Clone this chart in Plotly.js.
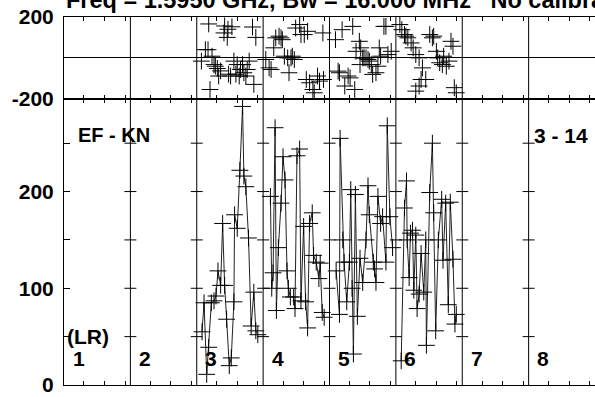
<!DOCTYPE html>
<html>
<head>
<meta charset="utf-8">
<script src="https://cdn.plot.ly/plotly-3.0.1.min.js"></script>
<style>html,body{margin:0;padding:0;background:#fff;}#chart{width:595px;height:397px;}</style>
</head>
<body>
<div id="chart"></div>
<script>
// Antenna labels along the baseline panels
const antennas = ["1","2","3","4","5","6","7","8"];
const titleText = "Freq = 1.5950 GHz, Bw = 16.000 MHz   No calibration";
const baselineLabel = "EF - KN";
const timeLabel = "3 - 14";
const polLabel = "(LR)";

// time within each antenna panel (percent of panel) and amplitudes
const t3a = [8,11,15,18,22,26,29,32,36,39,42,45,49,52,56,57,61,65,69,71,74,78,82,86,89,92];
const amp3 = [55,85,11,39,85,87,92,118,103,167,103,68,20,28,86,176,162,222,288,216,205,152,61,96,56,52];
const t4a = [11,13,15,18,20,23,27,30,33,36,38,41,46,48,51,55,57,61,64,67,70,74,76,80,84,86,89,92];
const amp4 = [195,100,116,266,77,142,188,236,212,118,100,91,91,79,237,244,87,164,86,59,167,178,134,127,110,126,75,70];
const t5a = [10,15,16,20,22,26,30,32,34,36,39,42,46,50,55,58,60,66,68,70,73,77,80,85,87,91,95];
const amp5 = [118,73,255,150,127,86,127,202,100,32,197,71,131,106,150,206,176,127,120,106,195,167,174,127,268,174,142];
const t6a = [8,13,16,17,20,22,25,27,30,32,35,38,42,45,46,51,55,57,60,64,69,71,75,79,82,86,89,91];
const amp6 = [25,183,211,150,111,157,160,98,155,79,94,136,96,150,41,199,250,178,56,150,192,129,188,83,189,130,63,73];

// phases
const t3p = [7,13,17,18,20,23,26,28,31,33,36,41,42,46,47,48,51,53,56,59,61,64,66,69,71,74,76,79,84,86,89];
const ph3 = [-16,40,40,166,-155,8,-33,-41,-52,-89,-64,122,156,100,140,-80,-89,152,-16,-80,-33,-89,-57,-33,-73,-89,-57,-16,151,-130,100];
const t4p = [4,9,12,16,19,24,27,29,32,37,39,42,44,47,49,55,57,62,65,67,70,75,77,82,85,90,91];
const ph4 = [-8,-49,-57,49,98,106,98,89,8,0,-73,0,8,-8,146,163,114,114,-106,130,-122,-155,-171,-89,-114,122,-106];
const t5p = [9,13,15,19,23,28,31,35,38,40,45,46,47,50,52,55,58,60,63,65,70,73,75,77,82,85,88,93];
const ph5 = [89,-65,-73,138,-138,-89,-98,154,-155,32,81,-33,49,0,0,0,-8,-16,-33,-81,-73,-41,49,8,154,154,16,32];
const t6p = [6,9,13,15,18,23,26,30,30,35,35,38,40,45,51,55,57,61,63,66,70,72,76,80,83,86,88,91];
const ph6 = [163,138,114,106,98,73,49,16,-163,0,-138,-106,-49,-106,114,98,106,32,0,-24,-33,8,-41,-16,81,57,-146,-171];

const ampTicks = [0,50,100,150,200,250];
const ampTickText = ["0","","100","","200",""];
const phaseTicks = [-200,200];
const phaseTickText = ["-200","200"];
const timeTickFractions = [0.30,0.61,0.92];

const series = [
  {ant:3, ta:t3a, a:amp3, tp:t3p, p:ph3},
  {ant:4, ta:t4a, a:amp4, tp:t4p, p:ph4},
  {ant:5, ta:t5a, a:amp5, tp:t5p, p:ph5},
  {ant:6, ta:t6a, a:amp6, tp:t6p, p:ph6}
];

const marker = {symbol:'cross-thin', size:12, color:'#000', line:{width:1, color:'#000'}};
const traces = [];
series.forEach(s => {
  traces.push({x:s.ta.map(v => s.ant-1+v/100), y:s.a, xaxis:'x', yaxis:'y',
    mode:'lines+markers', line:{color:'#222', width:1}, marker:marker, hoverinfo:'none'});
  traces.push({x:s.tp.map(v => s.ant-1+v/100), y:s.p, xaxis:'x2', yaxis:'y2',
    mode:'markers', marker:marker, hoverinfo:'none'});
});

const nPan = antennas.length;
const tickvals = [];
for (let k=0;k<nPan;k++) timeTickFractions.forEach(f => tickvals.push(k+f));

const shapes = [];
for (let k=1;k<nPan;k++) {
  shapes.push({type:'line', xref:'x', yref:'paper', x0:k, x1:k, y0:0, y1:1, line:{color:'#000', width:1}});
  ampTicks.slice(1).forEach(v => shapes.push({type:'line', xref:'x', yref:'y', xsizemode:'pixel', xanchor:k,
    x0:-6, x1:6, y0:v, y1:v, line:{color:'#000', width:1}}));
}

const F = {family:'"Liberation Sans", Arial, sans-serif', size:21, color:'#000', weight:'bold'};
const FT = Object.assign({}, F, {size:23.5});
const annotations = [
  {text:titleText, xref:'paper', yref:'paper', x:0, y:1.047, xanchor:'left', yanchor:'middle', showarrow:false, font:FT},
  {text:baselineLabel, xref:'paper', yref:'paper', x:0.0235, y:0.679, xanchor:'left', yanchor:'middle', showarrow:false, font:Object.assign({}, F, {size:20})},
  {text:timeLabel, xref:'paper', yref:'paper', x:0.99, y:0.679, xanchor:'right', yanchor:'middle', showarrow:false, font:F},
  {text:polLabel, xref:'paper', yref:'paper', x:0.002, y:0.131, xanchor:'left', yanchor:'middle', showarrow:false, font:F}
];
antennas.forEach((a,k) => annotations.push({text:a, xref:'x', yref:'paper', x:k+0.22, y:0.071,
  xanchor:'center', yanchor:'middle', showarrow:false, font:F}));

const xbase = {range:[0,nPan], tickmode:'array', tickvals:tickvals, ticks:'inside', ticklen:4, tickcolor:'#000', tickwidth:1,
  showline:true, linecolor:'#000', linewidth:1, mirror:'ticks', showgrid:false, zeroline:false, showticklabels:false, fixedrange:true};

const layout = {
  width:595, height:397,
  margin:{l:64, r:0, t:17, b:12},
  paper_bgcolor:'#fff', plot_bgcolor:'#fff',
  showlegend:false,
  font:F,
  xaxis:Object.assign({}, xbase, {anchor:'y', domain:[0,1]}),
  xaxis2:Object.assign({}, xbase, {anchor:'y2', domain:[0,1], matches:'x'}),
  yaxis:{domain:[0,0.778], range:[0,296], tickmode:'array', tickvals:ampTicks, ticktext:ampTickText,
    ticks:'inside', ticklen:6, tickcolor:'#000', showline:true, linecolor:'#000', linewidth:1, mirror:true,
    showgrid:false, zeroline:false, tickfont:F, ticklabelstandoff:5},
  yaxis2:{domain:[0.778,1], range:[-200,200], tickmode:'array', tickvals:phaseTicks, ticktext:phaseTickText,
    ticks:'', showline:true, linecolor:'#000', linewidth:1, mirror:true, showgrid:false,
    zeroline:true, zerolinecolor:'#000', zerolinewidth:1, tickfont:F, ticklabelstandoff:5},
  shapes:shapes,
  annotations:annotations
};

Plotly.newPlot('chart', traces, layout, {staticPlot:true, displayModeBar:false});
</script>
</body>
</html>
